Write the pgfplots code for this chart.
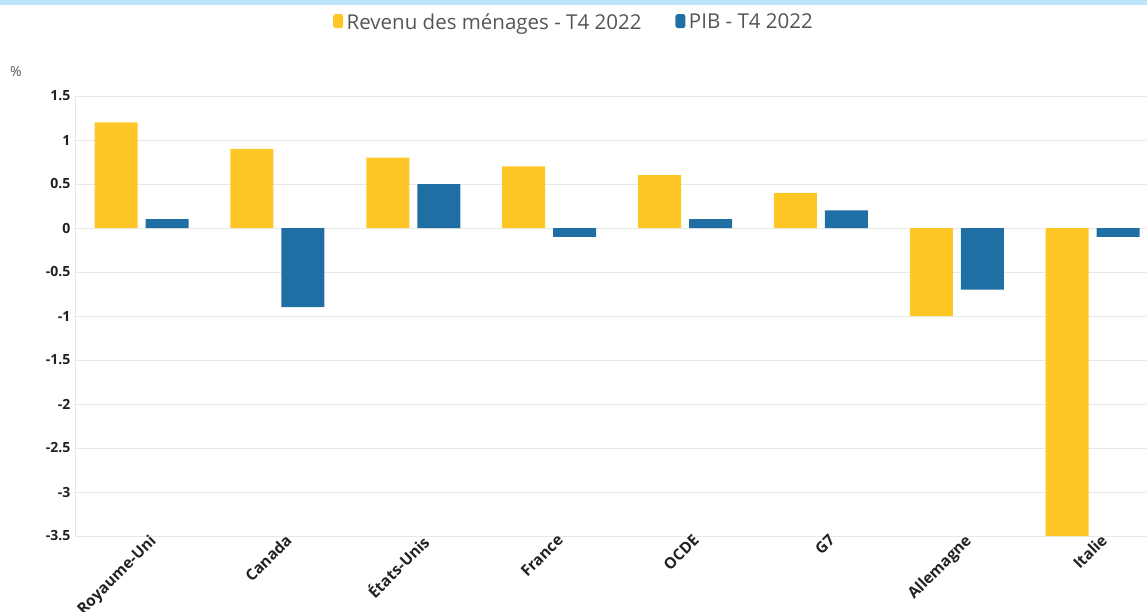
\documentclass[border=0pt]{standalone}
\usepackage{pgfplots}
\pgfplotsset{compat=1.18}
\usepackage{fontspec}
\setmainfont{Open Sans}
\definecolor{cyel}{HTML}{FFC726}
\definecolor{cblu}{HTML}{1F6FA5}
\definecolor{gridc}{HTML}{E8E8E8}
\definecolor{txt}{HTML}{222222}
\definecolor{legc}{HTML}{555555}
\definecolor{topband}{HTML}{BEE3F8}
\begin{document}
\begin{tikzpicture}[x=1pt,y=1pt]
\useasboundingbox (0,0) rectangle (1147,611);
\fill[topband] (0,606) rectangle (1147,611);
\node[anchor=center,text=legc,font=\fontsize{14}{16}\selectfont] at (16,539) {\%};
\begin{axis}[
  at={(75pt,75pt)}, anchor=south west,
  scale only axis, width=1072pt, height=440pt,
  xmin=-0.49, xmax=7.40, ymin=-3.5, ymax=1.5,
  ybar=8pt, bar width=43pt,
  axis lines=left, axis line style={gridc,-}, 
  major tick length=0pt,
  ytick={-3.5,-3,-2.5,-2,-1.5,-1,-0.5,0,0.5,1,1.5},
  yticklabels={-3.5,-3,-2.5,-2,-1.5,-1,-0.5,0,0.5,1,1.5},
  ymajorgrids, grid style={gridc},
  xtick={0,...,7},
  xticklabels={Royaume-Uni,Canada,États-Unis,France,OCDE,G7,Allemagne,Italie},
  tick label style={text=txt},
  x tick label style={rotate=45, anchor=north east, xshift=8pt, yshift=-2pt, inner sep=1pt, font=\bfseries\fontsize{15.5}{17}\selectfont},
  y tick label style={xshift=-1pt, font=\bfseries\fontsize{14}{16}\selectfont},
  legend columns=2,
  legend style={draw=none, fill=none, at={(0.4655,1.168)}, anchor=center,
    font=\fontsize{20.5}{23}\selectfont, text=legc,
    /tikz/every odd column/.append style={column sep=1.5pt},
    /tikz/every even column/.append style={column sep=32pt}},
  legend image code/.code={\fill[#1,rounded corners=2.5pt] (0pt,-6pt) rectangle (10pt,8pt);},
  clip=true,
]
\addplot[fill=cyel, draw=none] coordinates {(0,1.2) (1,0.9) (2,0.8) (3,0.7) (4,0.6) (5,0.4) (6,-1.0) (7,-3.5)};
\addplot[fill=cblu, draw=none] coordinates {(0,0.1) (1,-0.9) (2,0.5) (3,-0.1) (4,0.1) (5,0.2) (6,-0.7) (7,-0.1)};
\legend{Revenu des ménages - T4 2022, PIB - T4 2022}
\end{axis}
\end{tikzpicture}
\end{document}
